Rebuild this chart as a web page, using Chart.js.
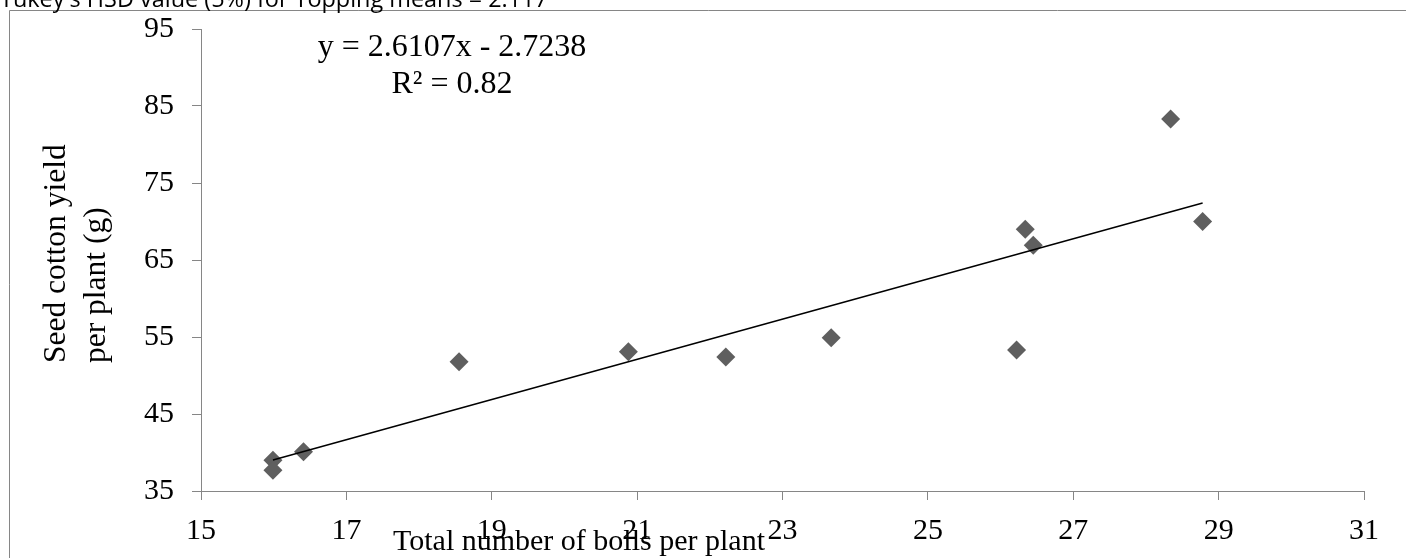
<!DOCTYPE html>
<html>
<head>
<meta charset="utf-8">
<script src="https://cdn.jsdelivr.net/npm/chart.js@4.4.1/dist/chart.umd.min.js"></script>
<style>
  html, body { margin: 0; padding: 0; background: #fff; overflow: hidden; }
  canvas { display: block; }
</style>
</head>
<body>
<canvas id="chart" width="1406" height="558"></canvas>
<script>
// Seed cotton yield vs total bolls per plant
const bolls = [15.99, 15.99, 16.41, 18.55, 20.88, 22.22, 23.67, 26.22, 26.34, 26.45, 28.34, 28.78];
const yieldG = [39.0, 37.7, 40.1, 51.8, 53.1, 52.4, 54.9, 53.3, 69.0, 66.9, 83.3, 70.0];
const xTicks = [15, 17, 19, 21, 23, 25, 27, 29, 31];
const yTicks = [35, 45, 55, 65, 75, 85, 95];

const slope = 2.6107;
const intercept = -2.7238;
const equationText = ['y = 2.6107x - 2.7238', 'R² = 0.82'];
const headerText = "Tukey's HSD value (5%) for Topping means = 2.117";
const xTitle = 'Total number of bolls per plant';
const yTitle = ['Seed cotton yield', 'per plant (g)'];

const points = bolls.map((x, i) => ({ x: x, y: yieldG[i] }));
const xLo = Math.min(...bolls), xHi = Math.max(...bolls);
const trend = [
  { x: xLo, y: slope * xLo + intercept },
  { x: xHi, y: slope * xHi + intercept }
];

const serif = '"Liberation Serif", "Times New Roman", serif';
const axisGray = '#868686';

// texts that sit outside the normal Chart.js title slots
const textPlugin = {
  id: 'texts',
  beforeDraw(chart) {
    const ctx = chart.ctx;
    ctx.save();
    ctx.strokeStyle = axisGray;
    ctx.lineWidth = 1;
    ctx.beginPath();
    ctx.moveTo(9.5, 600);
    ctx.lineTo(9.5, 10.5);
    ctx.lineTo(1500, 10.5);
    ctx.stroke();
    ctx.restore();
  },
  afterDraw(chart) {
    const ctx = chart.ctx;
    ctx.save();
    ctx.fillStyle = '#000';

    // header, partly cut off at the top
    ctx.font = '22px "Open Sans"';
    const w = ctx.measureText(headerText).width;
    const size = 22 * 548 / w;
    ctx.font = size.toFixed(2) + 'px "Open Sans"';
    ctx.textAlign = 'left';
    ctx.textBaseline = 'alphabetic';
    ctx.fillText(headerText, 0, 7);

    // regression equation
    ctx.font = '32px ' + serif;
    ctx.textAlign = 'center';
    ctx.fillText(equationText[0], 452, 56);
    ctx.fillText(equationText[1], 452, 93);

    // x axis title
    ctx.font = '30px ' + serif;
    ctx.textAlign = 'left';
    ctx.fillText(xTitle, 393, 550);

    // y axis title
    ctx.font = '31.5px ' + serif;
    ctx.translate(0, 363);
    ctx.rotate(-Math.PI / 2);
    ctx.fillText(yTitle[0], 0, 65);
    ctx.fillText(yTitle[1], 0, 105);
    ctx.restore();
  }
};

new Chart(document.getElementById('chart'), {
  type: 'scatter',
  data: {
    datasets: [
      {
        label: 'Yield',
        data: points,
        pointStyle: 'rectRot',
        pointRadius: 9.5,
        pointBackgroundColor: '#5f5f5f',
        pointBorderColor: '#5f5f5f',
        pointBorderWidth: 0,
        order: 1
      },
      {
        label: 'Linear',
        type: 'line',
        data: trend,
        borderColor: '#000',
        borderWidth: 1.5,
        pointRadius: 0,
        fill: false,
        order: 0
      }
    ]
  },
  options: {
    responsive: false,
    animation: false,
    layout: { padding: { top: 29, right: 42, left: 0, bottom: 0 } },
    plugins: {
      legend: { display: false },
      tooltip: { enabled: false }
    },
    scales: {
      x: {
        type: 'linear',
        min: 15,
        max: 31,
        afterBuildTicks: (scale) => { scale.ticks = xTicks.map(v => ({ value: v })); },
        afterFit: (scale) => {
          scale.height = 67;
          scale.paddingLeft = 0;
          scale.paddingRight = 0;
        },
        ticks: { color: '#000', font: { family: serif, size: 30 }, padding: 13, maxRotation: 0 },
        grid: { display: true, drawOnChartArea: false, drawTicks: true, tickLength: 9, color: axisGray },
        border: { color: axisGray, width: 1 }
      },
      y: {
        type: 'linear',
        min: 35,
        max: 95,
        afterBuildTicks: (scale) => { scale.ticks = yTicks.map(v => ({ value: v })); },
        afterFit: (scale) => {
          scale.width = 201;
          scale.paddingTop = 0;
          scale.paddingBottom = 0;
        },
        ticks: { color: '#000', font: { family: serif, size: 30 }, padding: 18 },
        grid: { display: true, drawOnChartArea: false, drawTicks: true, tickLength: 9, color: axisGray },
        border: { color: axisGray, width: 1 }
      }
    }
  },
  plugins: [textPlugin]
});
</script>
</body>
</html>
